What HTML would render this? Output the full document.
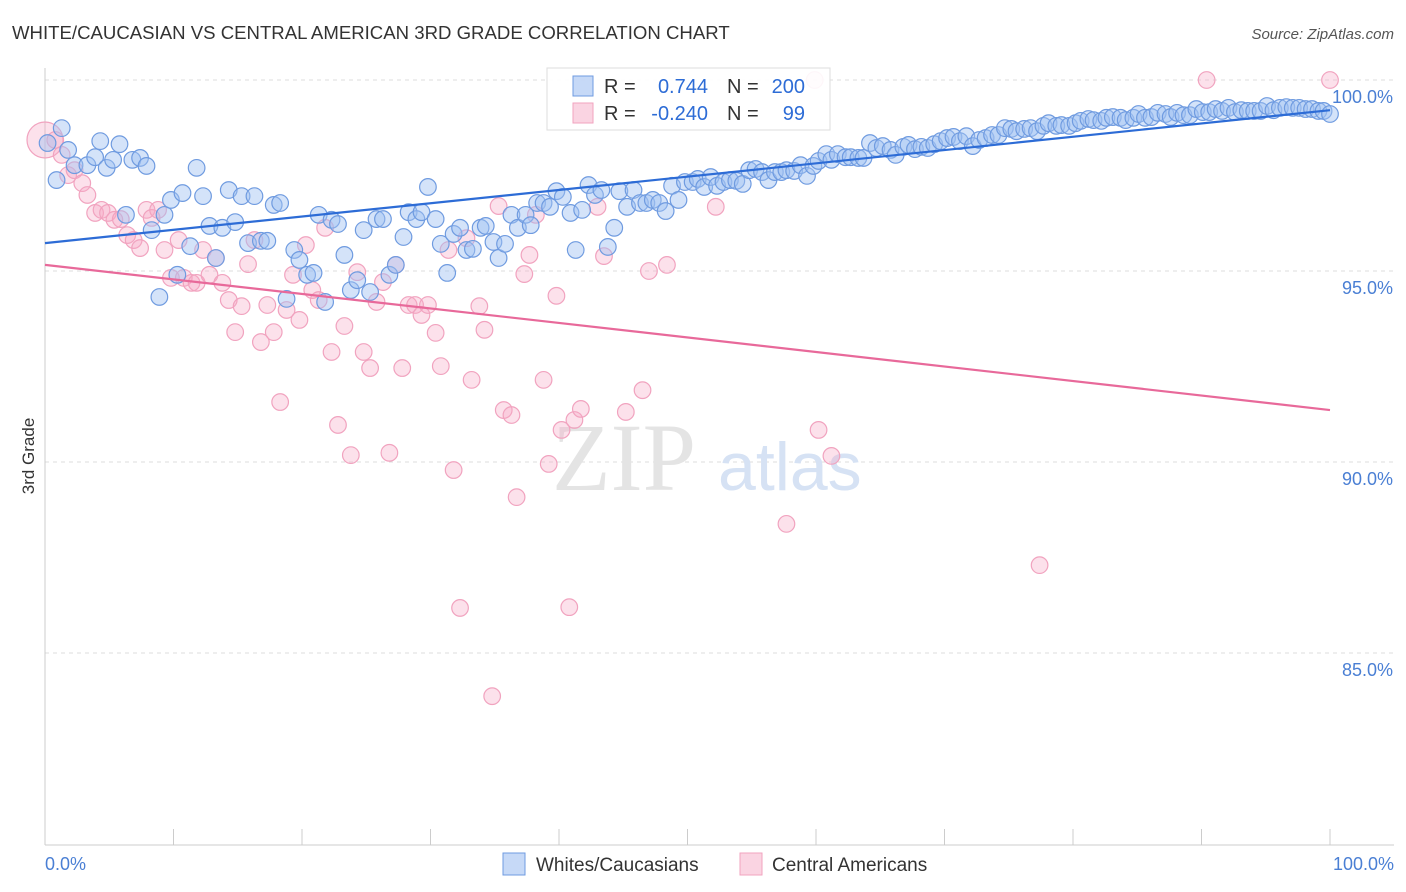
<!DOCTYPE html>
<html><head><meta charset="utf-8"><style>
body{margin:0;background:#fff;font-family:"Liberation Sans",sans-serif;}
#wrap{position:relative;width:1406px;height:892px;overflow:hidden;}
</style></head><body>
<div id="wrap">
<svg id="svg" width="1406" height="892"></svg>
</div>
<script>
const blueX=[0.2,1.3,1.8,0.9,2.3,3.3,3.9,4.3,4.8,5.3,5.8,6.3,6.8,7.4,7.9,8.3,8.9,9.3,9.8,10.3,10.7,11.3,11.8,12.3,12.8,13.3,13.8,14.3,14.8,15.3,15.8,16.3,16.8,17.3,17.8,18.3,18.8,19.4,19.8,20.4,20.9,21.3,21.8,22.3,22.8,23.3,23.8,24.3,24.8,25.3,25.8,26.3,26.8,27.3,27.9,28.3,28.9,29.3,29.8,30.4,30.8,31.3,31.8,32.3,32.8,33.3,33.9,34.3,34.9,35.3,35.8,36.3,36.8,37.4,37.8,38.3,38.8,39.3,39.8,40.3,40.9,41.3,41.8,42.3,42.8,43.3,43.8,44.3,44.7,45.3,45.8,46.3,46.8,47.3,47.8,48.3,48.8,49.3,49.8,50.4,50.8,51.3,51.8,52.3,52.8,53.3,53.8,54.3,54.8,55.3,55.8,56.3,56.8,57.3,57.7,58.3,58.8,59.3,59.8,60.2,60.8,61.2,61.7,62.3,62.7,63.3,63.7,64.2,64.7,65.2,65.8,66.2,66.8,67.2,67.7,68.2,68.7,69.2,69.7,70.2,70.7,71.2,71.7,72.2,72.7,73.2,73.7,74.2,74.7,75.2,75.6,76.2,76.7,77.2,77.7,78.1,78.7,79.1,79.7,80.2,80.6,81.2,81.6,82.2,82.6,83.1,83.7,84.1,84.7,85.1,85.6,86.1,86.6,87.2,87.6,88.1,88.6,89.1,89.6,90.1,90.6,91.1,91.6,92.1,92.6,93.1,93.6,94.1,94.6,95.1,95.6,96.1,96.6,97.1,97.6,98.1,98.6,99.1,99.5,100];
const blueY=[98.35,98.74,98.17,97.38,97.77,97.77,97.98,98.40,97.70,97.91,98.32,96.47,97.91,97.96,97.75,96.07,94.32,96.47,96.86,94.90,97.04,95.65,97.70,96.96,96.18,95.34,96.13,97.12,96.28,96.96,95.73,96.96,95.79,95.79,96.73,96.78,94.27,95.55,95.29,94.90,94.95,96.47,94.19,96.34,96.23,95.42,94.50,94.76,96.07,94.45,96.36,96.36,94.90,95.16,95.89,96.54,96.36,96.54,97.20,96.36,95.71,94.95,95.97,96.13,95.55,95.58,96.13,96.18,95.76,95.34,95.71,96.47,96.13,96.47,96.20,96.78,96.78,96.68,97.09,96.94,96.52,95.55,96.60,97.25,96.99,97.12,95.63,96.13,97.09,96.68,97.12,96.78,96.78,96.86,96.78,96.57,97.23,96.86,97.33,97.33,97.41,97.20,97.46,97.23,97.33,97.38,97.36,97.28,97.64,97.67,97.59,97.38,97.59,97.59,97.64,97.62,97.77,97.49,97.75,97.88,98.06,97.91,98.06,97.98,97.98,97.96,97.96,98.35,98.22,98.27,98.17,98.04,98.25,98.30,98.19,98.25,98.22,98.32,98.40,98.48,98.51,98.40,98.53,98.27,98.43,98.48,98.56,98.56,98.74,98.72,98.66,98.72,98.74,98.66,98.80,98.87,98.80,98.82,98.80,98.87,98.93,98.98,98.95,98.93,99.01,99.03,99.01,98.95,99.01,99.11,99.01,99.03,99.14,99.11,99.03,99.14,99.08,99.08,99.24,99.16,99.16,99.24,99.19,99.27,99.16,99.21,99.19,99.19,99.19,99.32,99.21,99.27,99.29,99.27,99.27,99.24,99.24,99.19,99.19,99.11];
const pinkX=[0,0.8,1.3,1.8,2.3,2.9,3.3,3.9,4.4,4.9,5.4,5.9,6.4,6.9,7.4,7.9,8.3,8.8,9.3,9.8,10.4,10.8,11.4,11.8,12.3,12.8,13.3,13.8,14.3,14.8,15.3,15.8,16.3,16.8,17.3,17.8,18.3,18.8,19.3,19.8,20.3,20.8,21.3,21.8,22.3,22.8,23.3,23.8,24.3,24.8,25.3,25.8,26.3,26.8,27.3,27.8,28.3,28.8,29.3,29.8,30.4,30.8,31.4,31.8,32.3,32.8,33.2,33.8,34.2,34.8,35.3,35.7,36.3,36.7,37.3,37.7,38.2,38.8,39.2,39.8,40.2,40.8,41.2,41.7,43.0,43.5,45.2,46.5,47.0,48.4,52.2,57.7,60.2,61.2,77.4,90.4,100,59.9];
const pinkY=[98.43,98.43,98.04,97.51,97.64,97.30,96.99,96.52,96.60,96.52,96.34,96.36,95.94,95.81,95.60,96.60,96.39,96.60,95.55,94.82,95.81,94.82,94.69,94.69,95.55,94.90,95.34,94.69,94.24,93.40,94.08,95.18,95.81,93.14,94.11,93.40,91.57,93.98,94.90,93.72,95.68,94.50,94.24,96.13,92.88,90.97,93.56,90.18,94.97,92.88,92.46,94.19,94.71,90.24,95.16,92.46,94.11,94.11,93.85,94.11,93.38,92.51,95.55,89.79,86.18,95.86,92.15,94.08,93.46,83.87,96.70,91.36,91.23,89.08,94.92,95.42,96.47,92.15,89.95,94.35,90.84,86.20,91.10,91.39,96.68,95.39,91.31,91.88,95.00,95.16,96.68,88.38,90.84,90.16,87.30,100,100,100];
// trend lines: [value at x=0, value at x=100]
const blueTrend=[95.73,99.21];
const pinkTrend=[95.16,91.36];
const yTicks=[100,95,90,85];
const yTickLabels=["100.0%","95.0%","90.0%","85.0%"];
const xTickVals=[0,10,20,30,40,50,60,70,80,90,100];

const NS="http://www.w3.org/2000/svg";
const svg=document.getElementById('svg');
const X0=45,X1=1330,YT=80,YB=844;
const xs=v=>X0+(v/100)*(X1-X0);
const ys=v=>YB-((v-80)/20)*(YB-YT);
function mk(tag,attrs,parent){const e=document.createElementNS(NS,tag);for(const k in attrs)e.setAttribute(k,attrs[k]);(parent||svg).appendChild(e);return e;}

let t=mk('text',{x:12,y:39,'font-size':18.6,fill:'#333'});t.textContent="WHITE/CAUCASIAN VS CENTRAL AMERICAN 3RD GRADE CORRELATION CHART";

t=mk('text',{x:1394,y:39,'font-size':15,fill:'#555','font-style':'italic','text-anchor':'end'});t.textContent="Source: ZipAtlas.com";


yTicks.forEach((v,i)=>{
 const g=mk('line',{x1:X0,x2:1394,y1:ys(v),y2:ys(v),stroke:'#ddd','stroke-dasharray':'4,4'});
 
 const l=mk('text',{x:1393,y:ys(v)+23,'font-size':18,fill:'#4a7fd4','text-anchor':'end'});l.textContent=yTickLabels[i];
 
});
let a=mk('line',{x1:X0,x2:X0,y1:68,y2:YB+1,stroke:'#ccc'});
a=mk('line',{x1:X0,x2:1394,y1:YB+1,y2:YB+1,stroke:'#ccc'});
xTickVals.forEach(v=>{const k=mk('line',{x1:xs(v),x2:xs(v),y1:829,y2:YB+1,stroke:'#ccc'});});
t=mk('text',{x:45,y:870,'font-size':18,fill:'#4a7fd4'});t.textContent="0.0%";
t=mk('text',{x:1394,y:870,'font-size':18,fill:'#4a7fd4','text-anchor':'end'});t.textContent="100.0%";
t=mk('text',{x:34,y:456,'font-size':17,fill:'#333','text-anchor':'middle',transform:'rotate(-90 34 456)'});t.textContent="3rd Grade";

t=mk('text',{x:552,y:490,'font-size':96,fill:'#e4e4e4','font-family':'Liberation Serif'});t.textContent="ZIP";
t=mk('text',{x:718,y:490,'font-size':68,fill:'#d6e2f4'});t.textContent="atlas";

pinkX.forEach((x,i)=>{const c=mk('circle',{cx:xs(x),cy:ys(pinkY[i]),r:i===0?18:8.3,fill:'rgba(246,170,198,0.35)',stroke:'#f1a3bf','stroke-width':1.2});
 });
blueX.forEach((x,i)=>{const c=mk('circle',{cx:xs(x),cy:ys(blueY[i]),r:8.3,fill:'rgba(160,192,242,0.45)',stroke:'#6f9be0','stroke-width':1.2});
 });

let l=mk('line',{x1:xs(0),y1:ys(blueTrend[0]),x2:xs(100),y2:ys(blueTrend[1]),stroke:'#2d6cd6','stroke-width':2.2});

l=mk('line',{x1:xs(0),y1:ys(pinkTrend[0]),x2:xs(100),y2:ys(pinkTrend[1]),stroke:'#e8699a','stroke-width':2.2});


const lg=mk('g',{});
mk('rect',{x:547,y:68,width:283,height:62,fill:'rgba(255,255,255,0.9)',stroke:'#ddd'},lg);
mk('rect',{x:573,y:76,width:20,height:20,fill:'rgba(160,192,242,0.6)',stroke:'#6f9be0'},lg);
mk('rect',{x:573,y:103,width:20,height:20,fill:'rgba(246,170,198,0.5)',stroke:'#f1a3bf'},lg);
function lt(x,y,s,c,anchor){const e=mk('text',{x:x,y:y,'font-size':20,fill:c,'text-anchor':anchor||'start'},lg);e.textContent=s;return e;}
lt(604,93,"R =","#333");lt(708,93,"0.744","#2d6cd6","end");lt(727,93,"N =","#333");lt(805,93,"200","#2d6cd6","end");
lt(604,120,"R =","#333");lt(708,120,"-0.240","#2d6cd6","end");lt(727,120,"N =","#333");lt(805,120,"99","#2d6cd6","end");

const bl=mk('g',{});
mk('rect',{x:503,y:853,width:22,height:22,fill:'rgba(160,192,242,0.6)',stroke:'#6f9be0'},bl);
t=mk('text',{x:536,y:871,'font-size':19,fill:'#333'},bl);t.textContent="Whites/Caucasians";
mk('rect',{x:740,y:853,width:22,height:22,fill:'rgba(246,170,198,0.5)',stroke:'#f1a3bf'},bl);
t=mk('text',{x:772,y:871,'font-size':19,fill:'#333'},bl);t.textContent="Central Americans";
</script>
</body></html>
